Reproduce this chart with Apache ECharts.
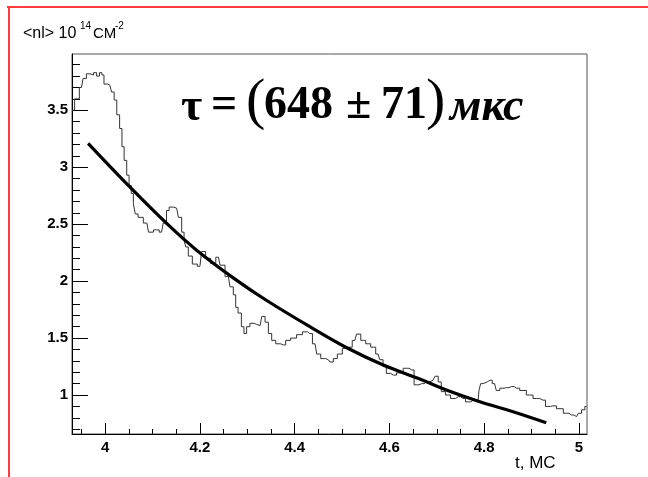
<!DOCTYPE html>
<html><head><meta charset="utf-8">
<script src="https://cdn.jsdelivr.net/npm/echarts@6/dist/echarts.min.js"></script>
<style>html,body{margin:0;padding:0;background:#fff}#c{width:648px;height:477px}</style>
</head><body><div id="c"></div>
<script>
// measured histogram <nl> vs t
const histT = [3.930,3.941,3.950,3.957,3.964,3.972,3.979,3.985,3.991,3.995,4.000,4.010,4.017,4.021,4.028,4.033,4.038,4.042,4.049,4.052,4.058,4.061,4.066,4.073,4.088,4.095,4.109,4.119,4.126,4.133,4.137,4.151,4.158,4.165,4.168,4.172,4.179,4.189,4.200,4.207,4.217,4.228,4.239,4.246,4.260,4.267,4.274,4.277,4.284,4.291,4.295,4.302,4.309,4.320,4.327,4.334,4.341,4.348,4.355,4.365,4.376,4.386,4.397,4.411,4.422,4.432,4.443,4.450,4.460,4.471,4.478,4.485,4.495,4.506,4.516,4.527,4.534,4.545,4.555,4.566,4.576,4.583,4.590,4.597,4.608,4.622,4.636,4.647,4.657,4.668,4.678,4.692,4.700,4.706,4.713,4.724,4.734,4.745,4.755,4.766,4.777,4.787,4.791,4.794,4.801,4.812,4.822,4.829,4.837,4.847,4.858,4.868,4.882,4.896,4.910,4.924,4.935,4.945,4.960,4.974,4.984,4.995,5.002,5.009,5.016];
const histN = [3.50,3.60,3.70,3.78,3.82,3.81,3.83,3.80,3.83,3.81,3.73,3.72,3.66,3.59,3.46,3.34,3.18,3.06,2.93,2.84,2.77,2.68,2.59,2.56,2.51,2.43,2.45,2.43,2.51,2.62,2.65,2.64,2.56,2.43,2.36,2.30,2.22,2.15,2.13,2.26,2.20,2.155,2.21,2.14,2.04,1.95,1.88,1.77,1.72,1.60,1.54,1.60,1.63,1.62,1.61,1.69,1.64,1.54,1.48,1.45,1.44,1.48,1.50,1.53,1.555,1.54,1.45,1.36,1.32,1.31,1.29,1.32,1.36,1.41,1.42,1.48,1.535,1.48,1.45,1.42,1.36,1.31,1.25,1.19,1.175,1.195,1.235,1.22,1.09,1.10,1.115,1.13,1.165,1.115,1.03,1.00,0.97,0.985,0.97,0.94,0.955,0.94,1.04,1.10,1.115,1.13,1.10,1.04,1.06,1.065,1.075,1.06,1.04,1.00,0.97,0.955,0.90,0.905,0.88,0.84,0.825,0.81,0.84,0.87,0.90];
// fitted exponential curve
const fitT = [3.964,4.052,4.130,4.193,4.277,4.341,4.432,4.510,4.587,4.664,4.720,4.791,4.861,4.931];
const fitN = [3.21,2.827,2.506,2.272,2.009,1.830,1.600,1.415,1.263,1.140,1.044,0.941,0.854,0.757];
// ticks
const xMajor = [4,4.2,4.4,4.6,4.8,5];
const xMinor = [3.95,4.05,4.1,4.15,4.25,4.3,4.35,4.45,4.5,4.55,4.65,4.7,4.75,4.85,4.9,4.95];
const yMajor = [1,1.5,2,2.5,3,3.5];
const yMinor = [0.7,0.8,0.9,1.1,1.2,1.3,1.4,1.6,1.7,1.8,1.9,2.1,2.2,2.3,2.4,2.6,2.7,2.8,2.9,3.1,3.2,3.3,3.4,3.6,3.7,3.8,3.9];
const yTitle = ['<nl> 10','14','СМ','-2'];
const xTitle = 't, МС';
const eq = ['τ','=','(','648','±','71',')','мкс'];

const chart = echarts.init(document.getElementById('c'));
const fmt = v => String(Math.round(v*10)/10);
const lab = {fontSize:15,fontWeight:'bold',color:'#000',fontFamily:'Liberation Sans'};
const XMIN=3.93, XMAX=5.017, YMIN=0.658, YMAX=3.994;
const serif = 'Liberation Serif';
function t(x,y,text,size,extra){return {type:'text',x:x,y:y,style:Object.assign({text:text,fontSize:size,fontFamily:'Liberation Sans',fill:'#000',verticalAlign:'middle',align:'left'},extra||{})};}
const B = {fontFamily:serif,fontWeight:'bold'};
chart.setOption({
  animation:false,
  grid:{left:72,top:54,right:61,bottom:43,show:true,borderColor:'#555',borderWidth:1,backgroundColor:'transparent'},
  xAxis:[
    {type:'value',min:XMIN,max:XMAX,position:'bottom',
     axisLine:{show:true,onZero:false,lineStyle:{color:'#000',width:1}},
     axisTick:{show:true,inside:true,length:11,customValues:xMajor,lineStyle:{color:'#000'}},
     axisLabel:Object.assign({customValues:xMajor,margin:6,formatter:fmt},lab),
     splitLine:{show:false}},
    {type:'value',min:XMIN,max:XMAX,position:'bottom',
     axisLine:{show:false,onZero:false},
     axisTick:{show:true,inside:true,length:5,customValues:xMinor,lineStyle:{color:'#000'}},
     axisLabel:{show:false},splitLine:{show:false}}
  ],
  yAxis:[
    {type:'value',min:YMIN,max:YMAX,position:'left',
     axisLine:{show:true,onZero:false,lineStyle:{color:'#000',width:1}},
     axisTick:{show:true,inside:true,length:16,customValues:yMajor,lineStyle:{color:'#000'}},
     axisLabel:Object.assign({customValues:yMajor,margin:4,formatter:fmt},lab),
     splitLine:{show:false}},
    {type:'value',min:YMIN,max:YMAX,position:'left',
     axisLine:{show:false,onZero:false},
     axisTick:{show:true,inside:true,length:8,customValues:yMinor,lineStyle:{color:'#000'}},
     axisLabel:{show:false},splitLine:{show:false}}
  ],
  series:[
    {type:'line',xAxisIndex:0,yAxisIndex:0,step:'middle',showSymbol:false,
     data:histT.map((x,i)=>[x,histN[i]]),lineStyle:{color:'#333',width:1}},
    {type:'line',xAxisIndex:0,yAxisIndex:0,smooth:0.4,showSymbol:false,
     data:fitT.map((x,i)=>[x,fitN[i]]),lineStyle:{color:'#000',width:3.2}}
  ],
  graphic:[
    {type:'rect',shape:{x:7,y:6,width:641,height:2},style:{fill:'#ff3b3b'}},
    {type:'rect',shape:{x:8,y:6,width:2,height:471},style:{fill:'#ff3b3b'}},
    t(23,34,yTitle[0],16),
    t(80,26,yTitle[1],10),
    t(93,34,yTitle[2],15),
    t(115,26,yTitle[3],10),
    t(515,463,xTitle,17),
    t(181,108,eq[0],46,B),
    t(211,106,eq[1],46,B),
    t(246,103,eq[2],58,{fontFamily:serif}),
    t(264,106,eq[3],46,B),
    t(346,106,eq[4],46,B),
    t(381,106,eq[5],46,B),
    t(426,103,eq[6],58,{fontFamily:serif}),
    t(450,108,eq[7],46,{fontFamily:serif,fontWeight:'bold',fontStyle:'italic'})
  ]
});
</script></body></html>
